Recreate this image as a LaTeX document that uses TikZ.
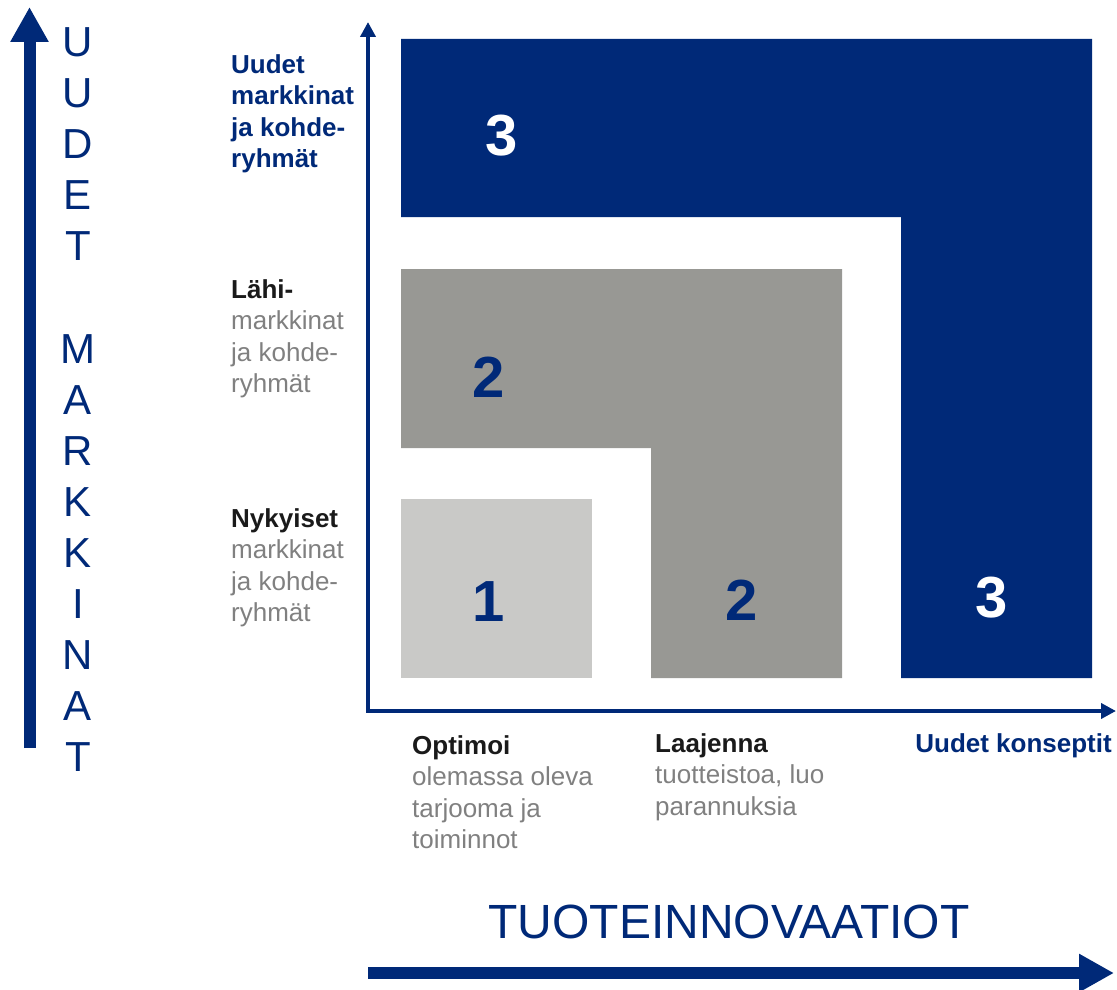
\documentclass[tikz,border=0pt]{standalone}
\usepackage{fontspec}
\setmainfont{Liberation Sans}
\usetikzlibrary{arrows.meta}
\definecolor{navy}{RGB}{0,41,120}
\definecolor{midgray}{RGB}{152,152,148}
\definecolor{lightbox}{RGB}{201,201,199}
\definecolor{labelgray}{RGB}{128,128,128}
\definecolor{ink}{RGB}{26,26,26}
\tikzset{
  lab/.style={text=labelgray, font=\fontsize{26}{31.5}\selectfont, align=left, inner sep=0pt, anchor=north west},
  num/.style={font=\fontsize{58}{58}\selectfont\bfseries, inner sep=0pt},
  vletter/.style={text=navy, font=\fontsize{42}{42}\selectfont, inner sep=0pt},
  axis/.style={navy, line width=4.5pt, {Triangle[length=15pt,width=15pt]}-{Triangle[length=15pt,width=15pt]}},
  bigarrow/.style={navy, line width=12pt, -{Triangle[length=35pt,width=36pt]}}
}
\begin{document}
\begin{tikzpicture}[x=1pt, y=-1pt, line join=miter]
		\useasboundingbox (0,0) rectangle (1117,990);
		% Blocks
		\fill[navy] (401,39) -| (1092,678) -- (901,678) |- (401,217) -- cycle;
		\fill[midgray] (401,269) -| (842,678) -- (651,678) |- (401,448) -- cycle;
		\fill[lightbox] (401,499) rectangle (592,678);
		\node[num, text=white] (n3a) at (502,136) {3};
		\node[num, text=navy] (n2a) at (489,377) {2};
		\node[num, text=navy] (n1) at (489,602) {1};
		\node[num, text=navy] (n2b) at (742,600) {2};
		\node[num, text=white] (n3b) at (992,598) {3};
		
		% Axes
		\coordinate (origin) at (368,711);
		\coordinate (ytip) at (368,22);
		\coordinate (xtip) at (1116,711);
		\draw[axis] (ytip) -- (origin) -- (xtip);
		
		% Left axis: markets
		\coordinate (mfoot) at (29.5,748);
		\coordinate (mtip) at (29.5,7);
		\draw[bigarrow] (mfoot) -- (mtip);
		\foreach \ch/\k in {U/0,U/1,D/2,E/3,T/4,M/6,A/7,R/8,K/9,K/10,I/11,N/12,A/13,T/14}
			\node[vletter] (v\k) at (78, 42+51.1*\k) {\ch};
		\node[lab, text=navy] (lbUudet) at (231,54) {\bfseries Uudet\\\bfseries markkinat\\\bfseries ja kohde-\\\bfseries ryhmät};
		\node[lab] (lbLahi) at (231,279) {\textcolor{ink}{\bfseries Lähi-}\\markkinat\\ja kohde-\\ryhmät};
		\node[lab] (lbNyk) at (231,508) {\textcolor{ink}{\bfseries Nykyiset}\\markkinat\\ja kohde-\\ryhmät};
		
		% Bottom axis: products
		\node[lab] (lbOpt) at (412,735) {\textcolor{ink}{\bfseries Optimoi}\\olemassa oleva\\tarjooma ja\\toiminnot};
		\node[lab] (lbLaaj) at (655,733) {\textcolor{ink}{\bfseries Laajenna}\\tuotteistoa, luo\\parannuksia};
		\node[lab, anchor=north east, text=navy] (lbKons) at (1112,733) {\bfseries Uudet konseptit};
		\node[text=navy, font=\fontsize{48}{48}\selectfont, inner sep=0pt] (ptitle) at (729,922) {TUOTEINNOVAATIOT};
		\coordinate (pfoot) at (368,973);
		\coordinate (ptip) at (1114,973);
		\draw[bigarrow] (pfoot) -- (ptip);
	\end{tikzpicture}
\end{document}
